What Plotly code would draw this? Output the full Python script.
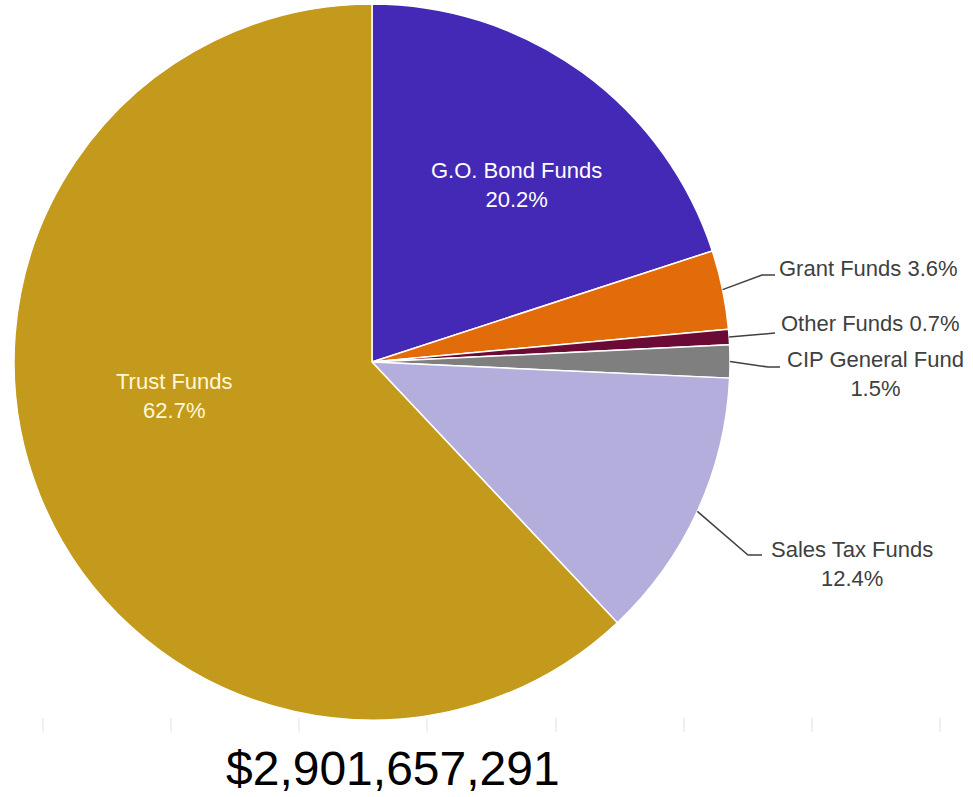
import math
import plotly.graph_objects as go

# ---- data ----
labels = ["G.O. Bond Funds", "Grant Funds", "Other Funds", "CIP General Fund",
          "Sales Tax Funds", "Trust Funds"]
values = [20.2, 3.6, 0.7, 1.5, 12.4, 62.7]
colors = ["#4329B6", "#E36C0A", "#6A0A35", "#7F7F7F", "#B3AEDB", "#C49A1C"]
total_text = "$2,901,657,291"

W, H = 973, 797
FONT = "Liberation Sans, Arial, sans-serif"

# pie placement (paper fractions)
dom_x = [14 / W, 730 / W]
dom_y = [1 - 721 / H, 1 - 3 / H]
cx_px = (dom_x[0] + dom_x[1]) / 2 * W
cy_px = (1 - (dom_y[0] + dom_y[1]) / 2) * H
r_px = min((dom_x[1] - dom_x[0]) * W, (dom_y[1] - dom_y[0]) * H) / 2

fig = go.Figure()
fig.add_trace(go.Pie(
    labels=labels, values=values, sort=False, direction="clockwise", rotation=0,
    marker=dict(colors=colors, line=dict(color="white", width=1.5)),
    textinfo="none", hoverinfo="label+percent",
    domain=dict(x=dom_x, y=dom_y), showlegend=False,
))

# faint tick marks along the bottom
tick_idx = list(range(8))
fig.add_trace(go.Scatter(x=[], y=[], showlegend=False, hoverinfo="skip"))
fig.update_xaxes(domain=[43 / W, 940 / W], range=[0, 7], tickvals=tick_idx,
                 ticks="outside", ticklen=14, tickwidth=1.5, tickcolor="#F0F0F0",
                 showticklabels=False, showgrid=False, zeroline=False, showline=False)
fig.update_yaxes(domain=[1 - 717 / H, 0.3], visible=False, showgrid=False, zeroline=False)

# mid angles (clockwise from top) computed from data
tot = sum(values)
mid = {}
acc = 0.0
for lab, v in zip(labels, values):
    a0 = acc / tot * 360
    acc += v
    a1 = acc / tot * 360
    mid[lab] = (a0 + a1) / 2

def edge_point(lab):
    a = math.radians(mid[lab])
    return cx_px + r_px * math.sin(a), cy_px - r_px * math.cos(a)

def px(x, y):
    return x / W, 1 - y / H

annotations = []
shapes = []

def pct(lab):
    return f"{values[labels.index(lab)]:.1f}%"

# inside labels
inside = [("Trust Funds", 174, 396, "#FFF8D8"), ("G.O. Bond Funds", 516, 185, "#FFFFFF")]
for lab, x, y, c in inside:
    ax, ay = px(x, y)
    annotations.append(dict(x=ax, y=ay, xref="paper", yref="paper", showarrow=False,
                            xanchor="center", yanchor="middle",
                            text=f"{lab}<br>{pct(lab)}", align="center",
                            font=dict(family=FONT, size=22, color=c)))

# outside labels: (label, text x, text y, anchor, single line?, elbow points)
outside = [
    ("Grant Funds", 777, 268, "left", True, [(762, 275), (775, 275)]),
    ("Other Funds", 779, 323, "left", True, [(775, 333)]),
    ("CIP General Fund", 875, 374, "center", False, [(768, 367), (780, 367)]),
    ("Sales Tax Funds", 852, 564, "center", False, [(748, 555), (762, 555)]),
]
for lab, x, y, anchor, single, pts in outside:
    ax, ay = px(x, y)
    txt = f"{lab} {pct(lab)}" if single else f"{lab}<br>{pct(lab)}"
    annotations.append(dict(x=ax, y=ay, xref="paper", yref="paper", showarrow=False,
                            xanchor=anchor, yanchor="middle", text=txt, align="center",
                            font=dict(family=FONT, size=22, color="#404040")))
    sx, sy = edge_point(lab)
    path_pts = [(sx, sy)] + pts
    path = "M " + " L ".join(f"{px(a, b)[0]:.5f},{px(a, b)[1]:.5f}" for a, b in path_pts)
    shapes.append(dict(type="path", path=path, xref="paper", yref="paper",
                       line=dict(color="#404040", width=1.5)))

# total
tx, ty = px(393, 768)
annotations.append(dict(x=tx, y=ty, xref="paper", yref="paper", showarrow=False,
                        xanchor="center", yanchor="middle",
                        text=total_text, font=dict(family=FONT, size=48, color="#000000")))

fig.update_layout(width=W, height=H, margin=dict(l=0, r=0, t=0, b=0),
                  paper_bgcolor="white", plot_bgcolor="white",
                  annotations=annotations, shapes=shapes)

fig.write_html("out.html")
